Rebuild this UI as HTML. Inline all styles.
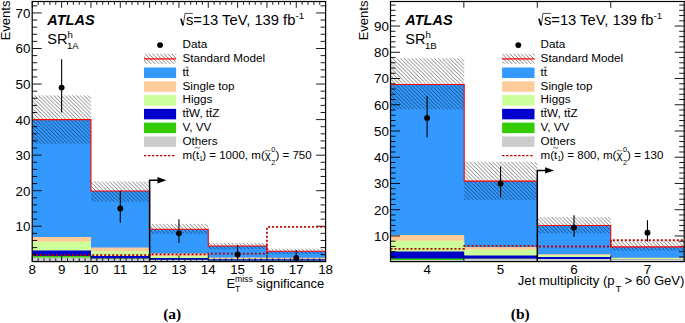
<!DOCTYPE html>
<html><head><meta charset="utf-8"><title>fig</title>
<style>html,body{margin:0;padding:0;background:#fff;}body{width:685px;height:323px;overflow:hidden;font-family:"Liberation Sans",sans-serif;}svg{display:block;}text{font-family:"Liberation Sans",sans-serif;fill:#000;}.ser{font-family:"Liberation Serif",serif;font-weight:bold;}</style>
</head><body>
<svg width="685" height="323" viewBox="0 0 685 323">
<defs><pattern id="hatch" patternUnits="userSpaceOnUse" width="3.8" height="3.8"><path d="M-1,-1 L4.8,4.8 M-1,2.8 L1,4.8 M2.8,-1 L4.8,1" stroke="#000" stroke-width="0.5" fill="none"/></pattern></defs>
<rect width="685" height="323" fill="#fff"/>
<g>
<path d="M32.20,261.60 L32.20,119.60 L90.96,119.60 L90.96,191.06 L149.62,191.06 L149.62,229.31 L208.28,229.31 L208.28,246.02 L266.94,246.02 L266.94,251.31 L325.60,251.31 L325.60,261.60 Z" fill="#3399ff"/>
<path d="M32.20,261.60 L32.20,237.09 L90.96,237.09 L90.96,247.40 L149.62,247.40 L149.62,253.41 L208.28,253.41 L208.28,257.53 L266.94,257.53 L266.94,257.71 L325.60,257.71 L325.60,261.60 Z" fill="#ffcc99"/>
<path d="M32.20,261.60 L32.20,241.61 L90.96,241.61 L90.96,250.89 L149.62,250.89 L149.62,255.90 L208.28,255.90 L208.28,258.78 L266.94,258.78 L266.94,258.96 L325.60,258.96 L325.60,261.60 Z" fill="#ccff99"/>
<path d="M32.20,261.60 L32.20,250.60 L90.96,250.60 L90.96,255.90 L149.62,255.90 L149.62,257.89 L208.28,257.89 L208.28,259.13 L266.94,259.13 L266.94,259.31 L325.60,259.31 L325.60,261.60 Z" fill="#0000cc"/>
<path d="M32.20,261.60 L32.20,255.90 L90.96,255.90 L90.96,258.42 L149.62,258.42 L149.62,259.84 L208.28,259.84 L208.28,260.73 L266.94,260.73 L266.94,260.73 L325.60,260.73 L325.60,261.60 Z" fill="#33cc00"/>
<path d="M32.20,261.60 L32.20,257.61 L90.96,257.61 L90.96,258.71 L149.62,258.71 L149.62,260.02 L208.28,260.02 L208.28,260.73 L266.94,260.73 L266.94,260.73 L325.60,260.73 L325.60,261.60 Z" fill="#cccccc"/>
<path d="M32.30,261.6 v-6.3 M32.30,1.5 v6.3" stroke="#000" stroke-width="0.9"/>
<path d="M61.63,261.6 v-6.3 M61.63,1.5 v6.3" stroke="#000" stroke-width="0.9"/>
<path d="M90.96,261.6 v-6.3 M90.96,1.5 v6.3" stroke="#000" stroke-width="0.9"/>
<path d="M120.29,261.6 v-6.3 M120.29,1.5 v6.3" stroke="#000" stroke-width="0.9"/>
<path d="M149.62,261.6 v-6.3 M149.62,1.5 v6.3" stroke="#000" stroke-width="0.9"/>
<path d="M178.95,261.6 v-6.3 M178.95,1.5 v6.3" stroke="#000" stroke-width="0.9"/>
<path d="M208.28,261.6 v-6.3 M208.28,1.5 v6.3" stroke="#000" stroke-width="0.9"/>
<path d="M237.61,261.6 v-6.3 M237.61,1.5 v6.3" stroke="#000" stroke-width="0.9"/>
<path d="M266.94,261.6 v-6.3 M266.94,1.5 v6.3" stroke="#000" stroke-width="0.9"/>
<path d="M296.27,261.6 v-6.3 M296.27,1.5 v6.3" stroke="#000" stroke-width="0.9"/>
<path d="M325.60,261.6 v-6.3 M325.60,1.5 v6.3" stroke="#000" stroke-width="0.9"/>
<path d="M38.17,261.6 v-3.3 M38.17,1.5 v3.3" stroke="#000" stroke-width="0.9"/>
<path d="M44.03,261.6 v-3.3 M44.03,1.5 v3.3" stroke="#000" stroke-width="0.9"/>
<path d="M49.90,261.6 v-3.3 M49.90,1.5 v3.3" stroke="#000" stroke-width="0.9"/>
<path d="M55.76,261.6 v-3.3 M55.76,1.5 v3.3" stroke="#000" stroke-width="0.9"/>
<path d="M67.50,261.6 v-3.3 M67.50,1.5 v3.3" stroke="#000" stroke-width="0.9"/>
<path d="M73.36,261.6 v-3.3 M73.36,1.5 v3.3" stroke="#000" stroke-width="0.9"/>
<path d="M79.23,261.6 v-3.3 M79.23,1.5 v3.3" stroke="#000" stroke-width="0.9"/>
<path d="M85.09,261.6 v-3.3 M85.09,1.5 v3.3" stroke="#000" stroke-width="0.9"/>
<path d="M96.83,261.6 v-3.3 M96.83,1.5 v3.3" stroke="#000" stroke-width="0.9"/>
<path d="M102.69,261.6 v-3.3 M102.69,1.5 v3.3" stroke="#000" stroke-width="0.9"/>
<path d="M108.56,261.6 v-3.3 M108.56,1.5 v3.3" stroke="#000" stroke-width="0.9"/>
<path d="M114.42,261.6 v-3.3 M114.42,1.5 v3.3" stroke="#000" stroke-width="0.9"/>
<path d="M126.16,261.6 v-3.3 M126.16,1.5 v3.3" stroke="#000" stroke-width="0.9"/>
<path d="M132.02,261.6 v-3.3 M132.02,1.5 v3.3" stroke="#000" stroke-width="0.9"/>
<path d="M137.89,261.6 v-3.3 M137.89,1.5 v3.3" stroke="#000" stroke-width="0.9"/>
<path d="M143.75,261.6 v-3.3 M143.75,1.5 v3.3" stroke="#000" stroke-width="0.9"/>
<path d="M155.49,261.6 v-3.3 M155.49,1.5 v3.3" stroke="#000" stroke-width="0.9"/>
<path d="M161.35,261.6 v-3.3 M161.35,1.5 v3.3" stroke="#000" stroke-width="0.9"/>
<path d="M167.22,261.6 v-3.3 M167.22,1.5 v3.3" stroke="#000" stroke-width="0.9"/>
<path d="M173.08,261.6 v-3.3 M173.08,1.5 v3.3" stroke="#000" stroke-width="0.9"/>
<path d="M184.82,261.6 v-3.3 M184.82,1.5 v3.3" stroke="#000" stroke-width="0.9"/>
<path d="M190.68,261.6 v-3.3 M190.68,1.5 v3.3" stroke="#000" stroke-width="0.9"/>
<path d="M196.55,261.6 v-3.3 M196.55,1.5 v3.3" stroke="#000" stroke-width="0.9"/>
<path d="M202.41,261.6 v-3.3 M202.41,1.5 v3.3" stroke="#000" stroke-width="0.9"/>
<path d="M214.15,261.6 v-3.3 M214.15,1.5 v3.3" stroke="#000" stroke-width="0.9"/>
<path d="M220.01,261.6 v-3.3 M220.01,1.5 v3.3" stroke="#000" stroke-width="0.9"/>
<path d="M225.88,261.6 v-3.3 M225.88,1.5 v3.3" stroke="#000" stroke-width="0.9"/>
<path d="M231.74,261.6 v-3.3 M231.74,1.5 v3.3" stroke="#000" stroke-width="0.9"/>
<path d="M243.48,261.6 v-3.3 M243.48,1.5 v3.3" stroke="#000" stroke-width="0.9"/>
<path d="M249.34,261.6 v-3.3 M249.34,1.5 v3.3" stroke="#000" stroke-width="0.9"/>
<path d="M255.21,261.6 v-3.3 M255.21,1.5 v3.3" stroke="#000" stroke-width="0.9"/>
<path d="M261.07,261.6 v-3.3 M261.07,1.5 v3.3" stroke="#000" stroke-width="0.9"/>
<path d="M272.81,261.6 v-3.3 M272.81,1.5 v3.3" stroke="#000" stroke-width="0.9"/>
<path d="M278.67,261.6 v-3.3 M278.67,1.5 v3.3" stroke="#000" stroke-width="0.9"/>
<path d="M284.54,261.6 v-3.3 M284.54,1.5 v3.3" stroke="#000" stroke-width="0.9"/>
<path d="M290.40,261.6 v-3.3 M290.40,1.5 v3.3" stroke="#000" stroke-width="0.9"/>
<path d="M302.14,261.6 v-3.3 M302.14,1.5 v3.3" stroke="#000" stroke-width="0.9"/>
<path d="M308.00,261.6 v-3.3 M308.00,1.5 v3.3" stroke="#000" stroke-width="0.9"/>
<path d="M313.87,261.6 v-3.3 M313.87,1.5 v3.3" stroke="#000" stroke-width="0.9"/>
<path d="M319.73,261.6 v-3.3 M319.73,1.5 v3.3" stroke="#000" stroke-width="0.9"/>
<path d="M32.2,226.25 h9.5 M325.6,226.25 h-9.5" stroke="#000" stroke-width="0.9"/>
<path d="M32.2,190.70 h9.5 M325.6,190.70 h-9.5" stroke="#000" stroke-width="0.9"/>
<path d="M32.2,155.15 h9.5 M325.6,155.15 h-9.5" stroke="#000" stroke-width="0.9"/>
<path d="M32.2,119.60 h9.5 M325.6,119.60 h-9.5" stroke="#000" stroke-width="0.9"/>
<path d="M32.2,84.05 h9.5 M325.6,84.05 h-9.5" stroke="#000" stroke-width="0.9"/>
<path d="M32.2,48.50 h9.5 M325.6,48.50 h-9.5" stroke="#000" stroke-width="0.9"/>
<path d="M32.2,12.95 h9.5 M325.6,12.95 h-9.5" stroke="#000" stroke-width="0.9"/>
<path d="M32.2,254.69 h5 M325.6,254.69 h-5" stroke="#000" stroke-width="0.9"/>
<path d="M32.2,247.58 h5 M325.6,247.58 h-5" stroke="#000" stroke-width="0.9"/>
<path d="M32.2,240.47 h5 M325.6,240.47 h-5" stroke="#000" stroke-width="0.9"/>
<path d="M32.2,233.36 h5 M325.6,233.36 h-5" stroke="#000" stroke-width="0.9"/>
<path d="M32.2,219.14 h5 M325.6,219.14 h-5" stroke="#000" stroke-width="0.9"/>
<path d="M32.2,212.03 h5 M325.6,212.03 h-5" stroke="#000" stroke-width="0.9"/>
<path d="M32.2,204.92 h5 M325.6,204.92 h-5" stroke="#000" stroke-width="0.9"/>
<path d="M32.2,197.81 h5 M325.6,197.81 h-5" stroke="#000" stroke-width="0.9"/>
<path d="M32.2,183.59 h5 M325.6,183.59 h-5" stroke="#000" stroke-width="0.9"/>
<path d="M32.2,176.48 h5 M325.6,176.48 h-5" stroke="#000" stroke-width="0.9"/>
<path d="M32.2,169.37 h5 M325.6,169.37 h-5" stroke="#000" stroke-width="0.9"/>
<path d="M32.2,162.26 h5 M325.6,162.26 h-5" stroke="#000" stroke-width="0.9"/>
<path d="M32.2,148.04 h5 M325.6,148.04 h-5" stroke="#000" stroke-width="0.9"/>
<path d="M32.2,140.93 h5 M325.6,140.93 h-5" stroke="#000" stroke-width="0.9"/>
<path d="M32.2,133.82 h5 M325.6,133.82 h-5" stroke="#000" stroke-width="0.9"/>
<path d="M32.2,126.71 h5 M325.6,126.71 h-5" stroke="#000" stroke-width="0.9"/>
<path d="M32.2,112.49 h5 M325.6,112.49 h-5" stroke="#000" stroke-width="0.9"/>
<path d="M32.2,105.38 h5 M325.6,105.38 h-5" stroke="#000" stroke-width="0.9"/>
<path d="M32.2,98.27 h5 M325.6,98.27 h-5" stroke="#000" stroke-width="0.9"/>
<path d="M32.2,91.16 h5 M325.6,91.16 h-5" stroke="#000" stroke-width="0.9"/>
<path d="M32.2,76.94 h5 M325.6,76.94 h-5" stroke="#000" stroke-width="0.9"/>
<path d="M32.2,69.83 h5 M325.6,69.83 h-5" stroke="#000" stroke-width="0.9"/>
<path d="M32.2,62.72 h5 M325.6,62.72 h-5" stroke="#000" stroke-width="0.9"/>
<path d="M32.2,55.61 h5 M325.6,55.61 h-5" stroke="#000" stroke-width="0.9"/>
<path d="M32.2,41.39 h5 M325.6,41.39 h-5" stroke="#000" stroke-width="0.9"/>
<path d="M32.2,34.28 h5 M325.6,34.28 h-5" stroke="#000" stroke-width="0.9"/>
<path d="M32.2,27.17 h5 M325.6,27.17 h-5" stroke="#000" stroke-width="0.9"/>
<path d="M32.2,20.06 h5 M325.6,20.06 h-5" stroke="#000" stroke-width="0.9"/>
<path d="M32.2,5.84 h5 M325.6,5.84 h-5" stroke="#000" stroke-width="0.9"/>
<rect x="32.30" y="95.43" width="58.66" height="48.35" fill="url(#hatch)"/>
<rect x="90.96" y="181.46" width="58.66" height="20.26" fill="url(#hatch)"/>
<rect x="149.62" y="223.90" width="58.66" height="9.99" fill="url(#hatch)"/>
<rect x="208.28" y="242.96" width="58.66" height="6.40" fill="url(#hatch)"/>
<rect x="266.94" y="248.65" width="58.66" height="5.33" fill="url(#hatch)"/>
<path d="M32.20,119.60 L90.96,119.60 L90.96,191.06 L149.62,191.06 L149.62,229.31 L208.28,229.31 L208.28,246.02 L266.94,246.02 L266.94,251.31 L325.60,251.31" fill="none" stroke="#ff0000" stroke-width="1.1"/>
<path d="M32.20,255.05 L90.96,255.05 L90.96,255.05 L149.62,255.05 L149.62,254.41 L208.28,254.41 L208.28,253.69 L266.94,253.69 L266.94,226.96 L325.60,226.96" fill="none" stroke="#bb0000" stroke-width="1.8" stroke-dasharray="2,2"/>
<rect x="32.2" y="1.5" width="293.40000000000003" height="260.1" fill="none" stroke="#000" stroke-width="1.2"/>
<path d="M149.62,261.6 V180.20 H158.62" fill="none" stroke="#000" stroke-width="1.5"/>
<path d="M157.42,177.00 L166.42,180.20 L157.42,183.40 Z" fill="#000"/>
<path d="M61.63,112.49 V59.16" stroke="#000" stroke-width="1.1"/>
<circle cx="61.63" cy="87.60" r="2.95" fill="#000"/>
<path d="M120.29,222.69 V190.70" stroke="#000" stroke-width="1.1"/>
<circle cx="120.29" cy="208.48" r="2.95" fill="#000"/>
<path d="M178.95,242.96 V219.14" stroke="#000" stroke-width="1.1"/>
<circle cx="178.95" cy="233.36" r="2.95" fill="#000"/>
<path d="M237.61,260.38 V245.09" stroke="#000" stroke-width="1.1"/>
<circle cx="237.61" cy="254.41" r="2.95" fill="#000"/>
<path d="M296.27,261.09 V250.07" stroke="#000" stroke-width="1.1"/>
<circle cx="296.27" cy="257.89" r="2.95" fill="#000"/>
<text x="32.30" y="274.00" font-size="13.4" text-anchor="middle">8</text>
<text x="61.63" y="274.00" font-size="13.4" text-anchor="middle">9</text>
<text x="90.96" y="274.00" font-size="13.4" text-anchor="middle">10</text>
<text x="120.29" y="274.00" font-size="13.4" text-anchor="middle">11</text>
<text x="149.62" y="274.00" font-size="13.4" text-anchor="middle">12</text>
<text x="178.95" y="274.00" font-size="13.4" text-anchor="middle">13</text>
<text x="208.28" y="274.00" font-size="13.4" text-anchor="middle">14</text>
<text x="237.61" y="274.00" font-size="13.4" text-anchor="middle">15</text>
<text x="266.94" y="274.00" font-size="13.4" text-anchor="middle">16</text>
<text x="296.27" y="274.00" font-size="13.4" text-anchor="middle">17</text>
<text x="325.60" y="274.00" font-size="13.4" text-anchor="middle">18</text>
<text x="30.50" y="231.15" font-size="13.4" text-anchor="end">10</text>
<text x="30.50" y="195.60" font-size="13.4" text-anchor="end">20</text>
<text x="30.50" y="160.05" font-size="13.4" text-anchor="end">30</text>
<text x="30.50" y="124.50" font-size="13.4" text-anchor="end">40</text>
<text x="30.50" y="88.95" font-size="13.4" text-anchor="end">50</text>
<text x="30.50" y="53.40" font-size="13.4" text-anchor="end">60</text>
<text x="30.50" y="17.85" font-size="13.4" text-anchor="end">70</text>
</g>
<text x="47.3" y="25.0" font-size="14.5" font-weight="bold" font-style="italic">ATLAS</text>
<text x="47.3" y="44.1" font-size="14.6">SR<tspan font-size="9.6" dy="-6.2">h</tspan><tspan font-size="9.6" dx="-6.0" dy="10.6">1A</tspan></text>
<text x="185.9" y="25.4" font-size="14.75">s=13 TeV, 139 fb<tspan font-size="9.8" dy="-6.3">-1</tspan></text>
<path d="M180.9,18.7 L183.0,25.2" fill="none" stroke="#000" stroke-width="1.7"/><path d="M183.2,25.6 L185.0,13.4 H192.9" fill="none" stroke="#000" stroke-width="0.7"/>
<text transform="translate(9.8,40.3) rotate(-90)" font-size="13">Events</text>
<text x="226.6" y="287.8" font-size="13">E</text><text x="234.9" y="282.1" font-size="8.7">miss</text><text x="234.9" y="292" font-size="8.6">T</text><text x="256.3" y="287.8" font-size="13">significance</text>
<circle cx="160.05" cy="45.10" r="2.95" fill="#000"/>
<text x="182.5" y="48.35" font-size="11.7">Data</text>
<rect x="144.0" y="53.77" width="32.099999999999994" height="10.2" fill="url(#hatch)"/>
<path d="M144.0,58.87 H176.1" stroke="#ff0000" stroke-width="1.1"/>
<text x="182.5" y="62.12" font-size="11.7">Standard Model</text>
<rect x="144.0" y="67.54" width="32.099999999999994" height="10.5" fill="#3399ff"/>
<text x="182.5" y="75.89" font-size="11.7">tt</text>
<path d="M185.60,67.24 h3.1" stroke="#000" stroke-width="0.6"/>
<rect x="144.0" y="81.31" width="32.099999999999994" height="10.5" fill="#ffcc99"/>
<text x="182.5" y="89.66" font-size="11.7">Single top</text>
<rect x="144.0" y="95.08" width="32.099999999999994" height="10.5" fill="#ccff99"/>
<text x="182.5" y="103.43" font-size="11.7">Higgs</text>
<rect x="144.0" y="108.85" width="32.099999999999994" height="10.5" fill="#0000cc"/>
<text x="182.5" y="117.20" font-size="11.7">ttW, ttZ</text>
<path d="M185.60,108.55 h3.1 M209.20,108.55 h3.1" stroke="#000" stroke-width="0.6"/>
<rect x="144.0" y="122.62" width="32.099999999999994" height="10.5" fill="#33cc00"/>
<text x="182.5" y="130.97" font-size="11.7">V, VV</text>
<rect x="144.0" y="136.39" width="32.099999999999994" height="10.5" fill="#cccccc"/>
<text x="182.5" y="144.74" font-size="11.7">Others</text>
<path d="M144.0,155.56 H175.1" stroke="#bb0000" stroke-width="1.25" stroke-dasharray="2.4,1.6"/>
<text x="182.5" y="158.51" font-size="11.55">m(t</text>
<path d="M194.87,148.21 q1.3,-1.5 2.7,-0.4 q1.4,1.1 2.7,-0.4" fill="none" stroke="#000" stroke-width="0.6"/>
<text x="199.28" y="161.41" font-size="6.3">1</text>
<text x="202.18" y="158.51" font-size="11.55">) = 1000, m(χ</text>
<path d="M264.97,150.91 q1.2,-1.2 2.5,-0.3 q1.2,0.9 2.5,-0.3" fill="none" stroke="#000" stroke-width="0.55"/>
<text x="271.23" y="152.11" font-size="7.3">0</text>
<text x="271.23" y="164.51" font-size="7.3">2</text>
<text x="275.43" y="158.51" font-size="11.55">) = 750</text>
<text class="ser" x="172.2" y="319" font-size="15.5" text-anchor="middle">(a)</text>
<g>
<path d="M390.50,261.60 L390.50,84.56 L464.20,84.56 L464.20,181.12 L537.40,181.12 L537.40,225.46 L610.80,225.46 L610.80,246.90 L684.20,246.90 L684.20,261.60 Z" fill="#3399ff"/>
<path d="M390.50,261.60 L390.50,235.09 L464.20,235.09 L464.20,247.11 L537.40,247.11 L537.40,254.20 L610.80,254.20 L610.80,257.87 L684.20,257.87 L684.20,261.60 Z" fill="#ffcc99"/>
<path d="M390.50,261.60 L390.50,240.79 L464.20,240.79 L464.20,249.39 L537.40,249.39 L537.40,255.30 L610.80,255.30 L610.80,258.40 L684.20,258.40 L684.20,261.60 Z" fill="#ccff99"/>
<path d="M390.50,261.60 L390.50,251.49 L464.20,251.49 L464.20,255.59 L537.40,255.59 L537.40,257.11 L610.80,257.11 L610.80,259.18 L684.20,259.18 L684.20,261.60 Z" fill="#0000cc"/>
<path d="M390.50,261.60 L390.50,258.40 L464.20,258.40 L464.20,258.66 L537.40,258.66 L537.40,258.92 L610.80,258.92 L610.80,259.26 L684.20,259.26 L684.20,261.60 Z" fill="#33cc00"/>
<path d="M390.50,261.60 L390.50,259.89 L464.20,259.89 L464.20,258.71 L537.40,258.71 L537.40,259.00 L610.80,259.00 L610.80,259.31 L684.20,259.31 L684.20,261.60 Z" fill="#cccccc"/>
<path d="M463.85,261.6 v-6.3 M463.85,1.5 v6.3" stroke="#000" stroke-width="0.9"/>
<path d="M537.30,261.6 v-6.3 M537.30,1.5 v6.3" stroke="#000" stroke-width="0.9"/>
<path d="M610.75,261.6 v-6.3 M610.75,1.5 v6.3" stroke="#000" stroke-width="0.9"/>
<path d="M390.5,235.96 h9.5 M684.2,235.96 h-9.5" stroke="#000" stroke-width="0.9"/>
<path d="M390.5,209.72 h9.5 M684.2,209.72 h-9.5" stroke="#000" stroke-width="0.9"/>
<path d="M390.5,183.48 h9.5 M684.2,183.48 h-9.5" stroke="#000" stroke-width="0.9"/>
<path d="M390.5,157.24 h9.5 M684.2,157.24 h-9.5" stroke="#000" stroke-width="0.9"/>
<path d="M390.5,131.00 h9.5 M684.2,131.00 h-9.5" stroke="#000" stroke-width="0.9"/>
<path d="M390.5,104.76 h9.5 M684.2,104.76 h-9.5" stroke="#000" stroke-width="0.9"/>
<path d="M390.5,78.52 h9.5 M684.2,78.52 h-9.5" stroke="#000" stroke-width="0.9"/>
<path d="M390.5,52.28 h9.5 M684.2,52.28 h-9.5" stroke="#000" stroke-width="0.9"/>
<path d="M390.5,26.04 h9.5 M684.2,26.04 h-9.5" stroke="#000" stroke-width="0.9"/>
<path d="M390.5,256.95 h5 M684.2,256.95 h-5" stroke="#000" stroke-width="0.9"/>
<path d="M390.5,251.70 h5 M684.2,251.70 h-5" stroke="#000" stroke-width="0.9"/>
<path d="M390.5,246.46 h5 M684.2,246.46 h-5" stroke="#000" stroke-width="0.9"/>
<path d="M390.5,241.21 h5 M684.2,241.21 h-5" stroke="#000" stroke-width="0.9"/>
<path d="M390.5,230.71 h5 M684.2,230.71 h-5" stroke="#000" stroke-width="0.9"/>
<path d="M390.5,225.46 h5 M684.2,225.46 h-5" stroke="#000" stroke-width="0.9"/>
<path d="M390.5,220.22 h5 M684.2,220.22 h-5" stroke="#000" stroke-width="0.9"/>
<path d="M390.5,214.97 h5 M684.2,214.97 h-5" stroke="#000" stroke-width="0.9"/>
<path d="M390.5,204.47 h5 M684.2,204.47 h-5" stroke="#000" stroke-width="0.9"/>
<path d="M390.5,199.22 h5 M684.2,199.22 h-5" stroke="#000" stroke-width="0.9"/>
<path d="M390.5,193.98 h5 M684.2,193.98 h-5" stroke="#000" stroke-width="0.9"/>
<path d="M390.5,188.73 h5 M684.2,188.73 h-5" stroke="#000" stroke-width="0.9"/>
<path d="M390.5,178.23 h5 M684.2,178.23 h-5" stroke="#000" stroke-width="0.9"/>
<path d="M390.5,172.98 h5 M684.2,172.98 h-5" stroke="#000" stroke-width="0.9"/>
<path d="M390.5,167.74 h5 M684.2,167.74 h-5" stroke="#000" stroke-width="0.9"/>
<path d="M390.5,162.49 h5 M684.2,162.49 h-5" stroke="#000" stroke-width="0.9"/>
<path d="M390.5,151.99 h5 M684.2,151.99 h-5" stroke="#000" stroke-width="0.9"/>
<path d="M390.5,146.74 h5 M684.2,146.74 h-5" stroke="#000" stroke-width="0.9"/>
<path d="M390.5,141.50 h5 M684.2,141.50 h-5" stroke="#000" stroke-width="0.9"/>
<path d="M390.5,136.25 h5 M684.2,136.25 h-5" stroke="#000" stroke-width="0.9"/>
<path d="M390.5,125.75 h5 M684.2,125.75 h-5" stroke="#000" stroke-width="0.9"/>
<path d="M390.5,120.50 h5 M684.2,120.50 h-5" stroke="#000" stroke-width="0.9"/>
<path d="M390.5,115.26 h5 M684.2,115.26 h-5" stroke="#000" stroke-width="0.9"/>
<path d="M390.5,110.01 h5 M684.2,110.01 h-5" stroke="#000" stroke-width="0.9"/>
<path d="M390.5,99.51 h5 M684.2,99.51 h-5" stroke="#000" stroke-width="0.9"/>
<path d="M390.5,94.26 h5 M684.2,94.26 h-5" stroke="#000" stroke-width="0.9"/>
<path d="M390.5,89.02 h5 M684.2,89.02 h-5" stroke="#000" stroke-width="0.9"/>
<path d="M390.5,83.77 h5 M684.2,83.77 h-5" stroke="#000" stroke-width="0.9"/>
<path d="M390.5,73.27 h5 M684.2,73.27 h-5" stroke="#000" stroke-width="0.9"/>
<path d="M390.5,68.02 h5 M684.2,68.02 h-5" stroke="#000" stroke-width="0.9"/>
<path d="M390.5,62.78 h5 M684.2,62.78 h-5" stroke="#000" stroke-width="0.9"/>
<path d="M390.5,57.53 h5 M684.2,57.53 h-5" stroke="#000" stroke-width="0.9"/>
<path d="M390.5,47.03 h5 M684.2,47.03 h-5" stroke="#000" stroke-width="0.9"/>
<path d="M390.5,41.78 h5 M684.2,41.78 h-5" stroke="#000" stroke-width="0.9"/>
<path d="M390.5,36.54 h5 M684.2,36.54 h-5" stroke="#000" stroke-width="0.9"/>
<path d="M390.5,31.29 h5 M684.2,31.29 h-5" stroke="#000" stroke-width="0.9"/>
<path d="M390.5,20.79 h5 M684.2,20.79 h-5" stroke="#000" stroke-width="0.9"/>
<path d="M390.5,15.54 h5 M684.2,15.54 h-5" stroke="#000" stroke-width="0.9"/>
<path d="M390.5,10.30 h5 M684.2,10.30 h-5" stroke="#000" stroke-width="0.9"/>
<path d="M390.5,5.05 h5 M684.2,5.05 h-5" stroke="#000" stroke-width="0.9"/>
<rect x="390.40" y="58.32" width="73.80" height="51.17" fill="url(#hatch)"/>
<rect x="464.20" y="161.83" width="73.20" height="38.18" fill="url(#hatch)"/>
<rect x="537.40" y="217.07" width="73.40" height="16.27" fill="url(#hatch)"/>
<rect x="610.80" y="241.39" width="73.40" height="9.26" fill="url(#hatch)"/>
<path d="M390.50,84.56 L464.20,84.56 L464.20,181.12 L537.40,181.12 L537.40,225.46 L610.80,225.46 L610.80,246.90 L684.20,246.90" fill="none" stroke="#ff0000" stroke-width="1.1"/>
<path d="M390.50,248.90 L464.20,248.90 L464.20,245.96 L537.40,245.96 L537.40,246.51 L610.80,246.51 L610.80,240.26 L684.20,240.26" fill="none" stroke="#bb0000" stroke-width="1.8" stroke-dasharray="2,2"/>
<rect x="390.5" y="1.5" width="293.70000000000005" height="260.1" fill="none" stroke="#000" stroke-width="1.2"/>
<path d="M537.30,261.6 V170.40 H546.30" fill="none" stroke="#000" stroke-width="1.5"/>
<path d="M545.10,167.20 L554.10,170.40 L545.10,173.60 Z" fill="#000"/>
<path d="M427.12,137.56 V96.10" stroke="#000" stroke-width="1.1"/>
<circle cx="427.12" cy="117.88" r="2.95" fill="#000"/>
<path d="M500.57,197.39 V166.42" stroke="#000" stroke-width="1.1"/>
<circle cx="500.57" cy="183.48" r="2.95" fill="#000"/>
<path d="M574.02,237.01 V215.23" stroke="#000" stroke-width="1.1"/>
<circle cx="574.02" cy="227.56" r="2.95" fill="#000"/>
<path d="M647.47,241.47 V220.22" stroke="#000" stroke-width="1.1"/>
<circle cx="647.47" cy="232.81" r="2.95" fill="#000"/>
<text x="427.12" y="274.00" font-size="13.4" text-anchor="middle">4</text>
<text x="500.57" y="274.00" font-size="13.4" text-anchor="middle">5</text>
<text x="574.02" y="274.00" font-size="13.4" text-anchor="middle">6</text>
<text x="647.47" y="274.00" font-size="13.4" text-anchor="middle">7</text>
<text x="389.00" y="240.86" font-size="13.4" text-anchor="end">10</text>
<text x="389.00" y="214.62" font-size="13.4" text-anchor="end">20</text>
<text x="389.00" y="188.38" font-size="13.4" text-anchor="end">30</text>
<text x="389.00" y="162.14" font-size="13.4" text-anchor="end">40</text>
<text x="389.00" y="135.90" font-size="13.4" text-anchor="end">50</text>
<text x="389.00" y="109.66" font-size="13.4" text-anchor="end">60</text>
<text x="389.00" y="83.42" font-size="13.4" text-anchor="end">70</text>
<text x="389.00" y="57.18" font-size="13.4" text-anchor="end">80</text>
<text x="389.00" y="30.94" font-size="13.4" text-anchor="end">90</text>
</g>
<text x="405.3" y="25.0" font-size="14.5" font-weight="bold" font-style="italic">ATLAS</text>
<text x="405.3" y="44.1" font-size="14.6">SR<tspan font-size="9.6" dy="-6.2">h</tspan><tspan font-size="9.6" dx="-6.0" dy="10.6">1B</tspan></text>
<text x="543.9" y="25.4" font-size="14.75">s=13 TeV, 139 fb<tspan font-size="9.8" dy="-6.3">-1</tspan></text>
<path d="M538.9,18.7 L541.0,25.2" fill="none" stroke="#000" stroke-width="1.7"/><path d="M541.2,25.6 L543.0,13.4 H550.9" fill="none" stroke="#000" stroke-width="0.7"/>
<text transform="translate(368.3,40.3) rotate(-90)" font-size="13">Events</text>
<text x="517.8" y="285.2" font-size="13.1">Jet multiplicity (p</text><text x="615.4" y="291.7" font-size="9.6">T</text><text x="624.4" y="285.2" font-size="13.1">&gt; 60 GeV)</text>
<circle cx="518.30" cy="45.10" r="2.95" fill="#000"/>
<text x="540.6" y="48.35" font-size="11.7">Data</text>
<rect x="502.1" y="53.77" width="32.39999999999998" height="10.2" fill="url(#hatch)"/>
<path d="M502.1,58.87 H534.5" stroke="#ff0000" stroke-width="1.1"/>
<text x="540.6" y="62.12" font-size="11.7">Standard Model</text>
<rect x="502.1" y="67.54" width="32.39999999999998" height="10.5" fill="#3399ff"/>
<text x="540.6" y="75.89" font-size="11.7">tt</text>
<path d="M543.70,67.24 h3.1" stroke="#000" stroke-width="0.6"/>
<rect x="502.1" y="81.31" width="32.39999999999998" height="10.5" fill="#ffcc99"/>
<text x="540.6" y="89.66" font-size="11.7">Single top</text>
<rect x="502.1" y="95.08" width="32.39999999999998" height="10.5" fill="#ccff99"/>
<text x="540.6" y="103.43" font-size="11.7">Higgs</text>
<rect x="502.1" y="108.85" width="32.39999999999998" height="10.5" fill="#0000cc"/>
<text x="540.6" y="117.20" font-size="11.7">ttW, ttZ</text>
<path d="M543.70,108.55 h3.1 M567.30,108.55 h3.1" stroke="#000" stroke-width="0.6"/>
<rect x="502.1" y="122.62" width="32.39999999999998" height="10.5" fill="#33cc00"/>
<text x="540.6" y="130.97" font-size="11.7">V, VV</text>
<rect x="502.1" y="136.39" width="32.39999999999998" height="10.5" fill="#cccccc"/>
<text x="540.6" y="144.74" font-size="11.7">Others</text>
<path d="M502.1,155.56 H533.5" stroke="#bb0000" stroke-width="1.25" stroke-dasharray="2.4,1.6"/>
<text x="540.6" y="158.51" font-size="11.55">m(t</text>
<path d="M552.97,148.21 q1.3,-1.5 2.7,-0.4 q1.4,1.1 2.7,-0.4" fill="none" stroke="#000" stroke-width="0.6"/>
<text x="557.38" y="161.41" font-size="6.3">1</text>
<text x="560.28" y="158.51" font-size="11.55">) = 800, m(χ</text>
<path d="M616.65,150.91 q1.2,-1.2 2.5,-0.3 q1.2,0.9 2.5,-0.3" fill="none" stroke="#000" stroke-width="0.55"/>
<text x="622.91" y="152.11" font-size="7.3">0</text>
<text x="622.91" y="164.51" font-size="7.3">2</text>
<text x="627.11" y="158.51" font-size="11.55">) = 130</text>
<text class="ser" x="520.2" y="319" font-size="15.5" text-anchor="middle">(b)</text>
</svg></body></html>
